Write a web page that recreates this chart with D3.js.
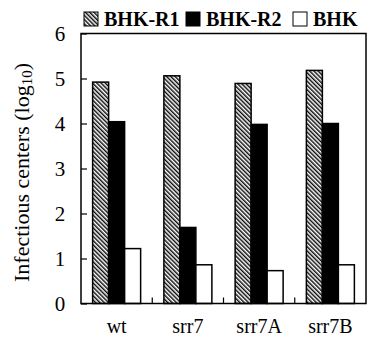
<!DOCTYPE html>
<html><head><meta charset="utf-8">
<script src="https://cdn.jsdelivr.net/npm/d3@7"></script>
<style>body{margin:0;background:#fff}svg{display:block}</style>
</head><body><svg id="c" width="368" height="339"></svg>
<script>
const categories = ["wt", "srr7", "srr7A", "srr7B"];
const series = ["BHK-R1", "BHK-R2", "BHK"];
const valuesR1 = [4.92, 5.06, 4.89, 5.18];
const valuesR2 = [4.04, 1.69, 3.98, 4.00];
const valuesBHK = [1.22, 0.86, 0.73, 0.86];
const yTicks = [0, 1, 2, 3, 4, 5, 6];

const svg = d3.select("#c");
const m = {l: 81, r: 366, t: 33.5, b: 303.5};
const font = "'Liberation Serif','Times New Roman',serif";

const defs = svg.append("defs");
const pat = defs.append("pattern").attr("id", "hatch").attr("patternUnits", "userSpaceOnUse")
  .attr("width", 3).attr("height", 3).attr("patternTransform", "rotate(-45)");
pat.append("rect").attr("width", 3).attr("height", 3).attr("fill", "#fff");
pat.append("line").attr("x1", 0.75).attr("y1", 0).attr("x2", 0.75).attr("y2", 3)
  .attr("stroke", "#000").attr("stroke-width", 1.4);

const fills = ["url(#hatch)", "#000", "#fff"];
const data = [valuesR1, valuesR2, valuesBHK];

const x = d3.scaleBand().domain(categories).range([m.l, m.r]).paddingInner(0).paddingOuter(0);
const xs = d3.scaleBand().domain(series).range([0, 48]);
const y = d3.scaleLinear().domain([0, 6]).range([m.b, m.t]);

// bars
series.forEach((s, si) => {
  svg.append("g").selectAll("rect").data(categories).join("rect")
    .attr("x", c => x(c) + (x.bandwidth() - 48) / 2 + xs(s))
    .attr("width", xs.bandwidth())
    .attr("y", (c, i) => y(data[si][i]))
    .attr("height", (c, i) => y(0) - y(data[si][i]))
    .attr("fill", fills[si]).attr("stroke", "#000").attr("stroke-width", 1.5);
});

// frame
svg.append("rect").attr("x", m.l).attr("y", m.t).attr("width", m.r - m.l).attr("height", m.b - m.t)
  .attr("fill", "none").attr("stroke", "#000").attr("stroke-width", 1.5);

// y axis
const ya = svg.append("g").attr("transform", `translate(${m.l},0)`)
  .call(d3.axisRight(y).tickValues(yTicks).tickSize(6).tickFormat(""));
ya.select(".domain").remove();
ya.selectAll("line").attr("stroke-width", 1.2);
svg.append("g").selectAll("text").data(yTicks).join("text")
  .attr("x", 60).attr("y", d => y(d)).attr("dy", "0.35em").attr("text-anchor", "middle")
  .attr("font-family", font).attr("font-size", 21).text(d => d);

// x axis ticks between groups
const xb = categories.slice(1).map(c => x(c));
svg.append("g").selectAll("line").data(xb).join("line")
  .attr("x1", d => d).attr("x2", d => d).attr("y1", m.b).attr("y2", m.b - 6)
  .attr("stroke", "#000").attr("stroke-width", 1.2);
svg.append("g").selectAll("text").data(categories).join("text")
  .attr("x", c => x(c) + x.bandwidth() / 2).attr("y", 333)
  .attr("text-anchor", "middle").attr("font-family", font).attr("font-size", 20).text(c => c);

// y label
const yl = svg.append("text").attr("transform", "translate(29,172.5) rotate(-90)")
  .attr("text-anchor", "middle").attr("font-family", font).attr("font-size", 22);
yl.append("tspan").text("Infectious centers (log");
yl.append("tspan").attr("font-size", 15).attr("dy", 3).text("10");
yl.append("tspan").attr("dy", -3).text(")");

// legend
const legX = [84, 186, 293];
const lg = svg.append("g");
series.forEach((s, i) => {
  lg.append("rect").attr("x", legX[i]).attr("y", 12).attr("width", 14).attr("height", 14)
    .attr("fill", fills[i]).attr("stroke", "#000").attr("stroke-width", 1);
  lg.append("text").attr("x", legX[i] + 20).attr("y", 26)
    .attr("font-family", font).attr("font-weight", "bold").attr("font-size", 20).text(s);
});
</script></body></html>
